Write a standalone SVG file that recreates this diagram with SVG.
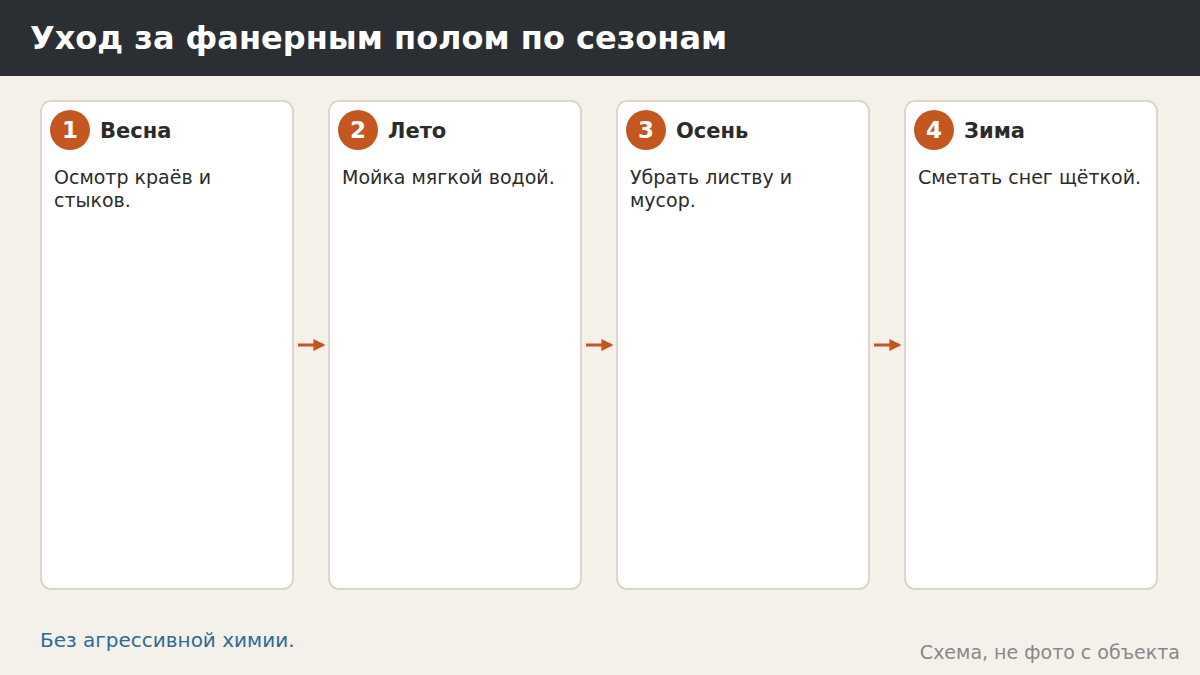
<svg xmlns="http://www.w3.org/2000/svg" width="1200" height="675" viewBox="0 0 1200 675">
<defs>
<style>
.card{fill:#ffffff;stroke:#ddd6cc;stroke-width:2}
.badge{fill:#c4561f}
.num{font-family:"DejaVu Sans",sans-serif;font-weight:bold;font-size:23px;fill:#ffffff;text-anchor:middle}
.ttl{font-family:"DejaVu Sans",sans-serif;font-weight:bold;font-size:21px;fill:#2b2b2b}
.body{font-family:"DejaVu Sans",sans-serif;font-size:19px;fill:#2b2b2b}
.conn{stroke:#c4561f;stroke-width:3;fill:none}
</style>
<marker id="ah" viewBox="0 0 10 10" refX="8" refY="5" markerWidth="4" markerHeight="4" orient="auto" markerUnits="strokeWidth">
<path d="M0,0 L10,5 L0,10 z" fill="#c4561f"/>
</marker>
</defs>
<rect x="0" y="0" width="1200" height="675" fill="#f4f1eb"/>
<rect x="0" y="0" width="1200" height="76" fill="#2b2e33"/>
<text x="30" y="49" font-family="DejaVu Sans, sans-serif" font-weight="bold" font-size="32" fill="#ffffff">Уход за фанерным полом по сезонам</text>

<g id="spring">
<rect class="card" x="41" y="101" width="252" height="488" rx="10"/>
<circle class="badge" cx="70" cy="130" r="20"/>
<text class="num" x="70" y="138">1</text>
<text class="ttl" x="100" y="138">Весна</text>
<text class="body" x="54" y="184">Осмотр краёв и</text>
<text class="body" x="54" y="207">стыков.</text>
</g>
<g id="summer">
<rect class="card" x="329" y="101" width="252" height="488" rx="10"/>
<circle class="badge" cx="358" cy="130" r="20"/>
<text class="num" x="358" y="138">2</text>
<text class="ttl" x="388" y="138">Лето</text>
<text class="body" x="342" y="184">Мойка мягкой водой.</text>
</g>
<g id="autumn">
<rect class="card" x="617" y="101" width="252" height="488" rx="10"/>
<circle class="badge" cx="646" cy="130" r="20"/>
<text class="num" x="646" y="138">3</text>
<text class="ttl" x="676" y="138">Осень</text>
<text class="body" x="630" y="184">Убрать листву и</text>
<text class="body" x="630" y="207">мусор.</text>
</g>
<g id="winter">
<rect class="card" x="905" y="101" width="252" height="488" rx="10"/>
<circle class="badge" cx="934" cy="130" r="20"/>
<text class="num" x="934" y="138">4</text>
<text class="ttl" x="964" y="138">Зима</text>
<text class="body" x="918" y="184">Сметать снег щёткой.</text>
</g>

<g id="connectors">
<line class="conn" x1="298" y1="345" x2="323" y2="345" marker-end="url(#ah)"/>
<line class="conn" x1="586" y1="345" x2="611" y2="345" marker-end="url(#ah)"/>
<line class="conn" x1="874" y1="345" x2="899" y2="345" marker-end="url(#ah)"/>
</g>

<text x="40" y="647" font-family="DejaVu Sans, sans-serif" font-size="20" fill="#2f6b94">Без агрессивной химии.</text>
<text x="1180" y="659" font-family="DejaVu Sans, sans-serif" font-size="19" fill="#888888" text-anchor="end">Схема, не фото с объекта</text>
</svg>
